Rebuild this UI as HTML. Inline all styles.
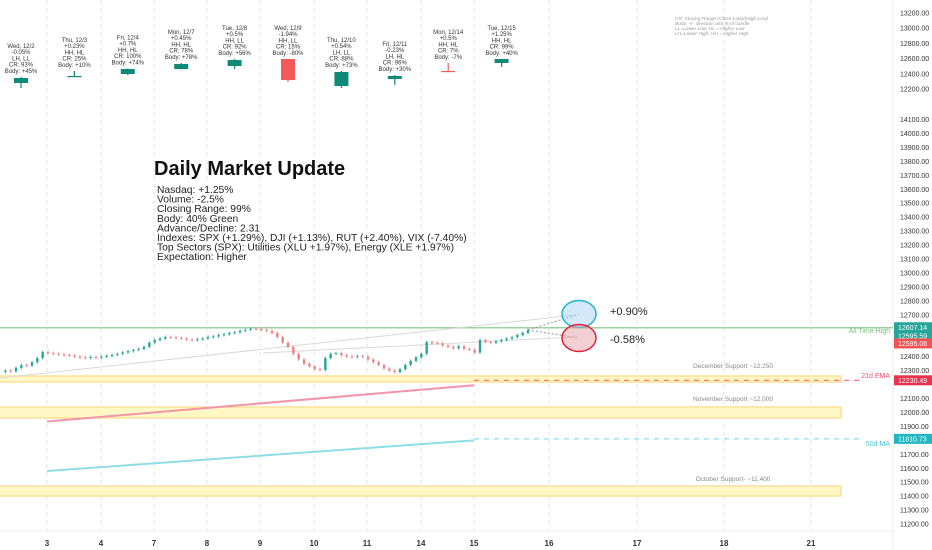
<!DOCTYPE html>
<html><head><meta charset="utf-8"><style>
html,body{margin:0;padding:0;background:#fff;}
svg{display:block;font-family:"Liberation Sans","DejaVu Sans",sans-serif;}
</style></head><body>
<svg id="c" width="932" height="550" viewBox="0 0 932 550"></svg>
<script>
// ---- data ----
const dayLabels = ["3","4","7","8","9","10","11","14","15","16","17","18","21"];
const dayX = [47,101,154,207,260,314,367,421,474,549,637,724,811];
const axisTicksMain = [14100,14000,13900,13800,13700,13600,13500,13400,13300,13200,13100,13000,12900,12800,12700,12400,12300,12100,12000,11900,11700,11600,11500,11400,11300,11200];
const axisTicksTop = [13200,13000,12800,12600,12400,12200];
const priceCloses = [12290,12300,12295,12320,12340,12335,12360,12390,12433,12425,
12420,12415,12412,12408,12400,12395,12390,12398,12392,12400,
12405,12412,12420,12430,12440,12448,12455,12470,12500,12519,
12530,12541,12538,12535,12530,12522,12518,12525,12530,12541,
12545,12555,12560,12570,12575,12585,12592,12600,12598,12591,
12585,12570,12540,12500,12470,12420,12380,12350,12330,12310,
12304,12390,12420,12426,12410,12400,12398,12405,12400,12380,
12360,12340,12315,12300,12290,12310,12340,12370,12395,12420,
12505,12500,12495,12480,12470,12460,12475,12455,12450,12430,
12519,12505,12500,12510,12520,12530,12540,12555,12570,12591];
const candleNames = ["Wed, 12/2","Thu, 12/3","Fri, 12/4","Mon, 12/7","Tue, 12/8","Wed, 12/9","Thu, 12/10","Fri, 12/11","Mon, 12/14","Tue, 12/15"];
const candleChg = ["-0.05%","+0.23%","+0.7%","+0.45%","+0.5%","-1.94%","+0.54%","-0.23%","+0.5%","+1.25%"];
const candleHL = ["LH, LL","HH, HL","HH, HL","HH, HL","HH, LL","HH, LL","LH, LL","LH, HL","HH, HL","HH, HL"];
const candleCR = ["93%","25%","100%","78%","92%","15%","88%","96%","7%","99%"];
const candleBody = ["+45%","+10%","+74%","+78%","+56%","-80%","+73%","+30%","-7%","+40%"];
const cOpen  = [12279,12365,12397,12463,12503,12595,12239,12332,12437,12542];
const cClose = [12345,12371,12463,12529,12582,12318,12424,12371,12430,12595];
const cHigh  = [12358,12437,12470,12542,12595,12595,12437,12384,12542,12595];
const cLow   = [12213,12358,12384,12457,12463,12292,12213,12253,12430,12490];
const emaEnds = [11935,12195];
const maEnds = [11580,11800];

const NS="http://www.w3.org/2000/svg";
const svg=document.getElementById('c');
function el(tag,attrs,parent){const e=document.createElementNS(NS,tag);for(const k in attrs)e.setAttribute(k,attrs[k]);(parent||svg).appendChild(e);return e;}
function txt(s,attrs,parent){const e=el('text',attrs,parent);e.textContent=s;return e;}
const yMain=v=>119.5+(14100-v)*0.1395;
const yTop=v=>13+(13200-v)*0.076;
const xIdx=i=>i*(528/(priceCloses.length-1));
const xCandle=i=>21+i*53.4;

// grid
dayX.forEach((x,i)=>{
  const g=el('line',{x1:x,y1:0,x2:x,y2:530,stroke:'#e3e3e3','stroke-dasharray':'4,4'});
  
  
  const t=txt(dayLabels[i],{x:x,y:546,'font-size':8,'font-weight':'bold',fill:'#333','text-anchor':'middle'});
  
  
});
el('line',{x1:0,y1:531,x2:893,y2:531,stroke:'#eee'});
el('line',{x1:893,y1:0,x2:893,y2:550,stroke:'#e8e8e8'});

// yellow support bands
[[376,382,'December Support ~12,250',368],[407,418,'November Support ~12,000',401],[486,496,'October Support- ~11,400',481]].forEach(b=>{
  const r=el('rect',{x:-2,y:b[0],width:843,height:b[1]-b[0],fill:'#fff8c4',stroke:'#fbe19a','stroke-width':1.5});
  
  
  const t=txt(b[2],{x:733,y:b[3],'font-size':6.5,fill:'#888','text-anchor':'middle'});
  
  
});

// ATH line
const ath=el('line',{x1:0,y1:yMain(12607.14),x2:893,y2:yMain(12607.14),stroke:'#9ed49c','stroke-width':1.5});


txt('All Time High',{x:890,y:333,'font-size':7,fill:'#7cbf7a','text-anchor':'end'});

// trend lines
el('line',{x1:0,y1:378,x2:575,y2:315,stroke:'#d8d8d8'});
el('line',{x1:263,y1:353,x2:575,y2:337,stroke:'#d8d8d8'});

// EMA / MA
const ema=el('line',{x1:47,y1:yMain(emaEnds[0]),x2:474,y2:yMain(emaEnds[1]),stroke:'#f095aa','stroke-width':2});


el('line',{x1:474,y1:yMain(12230.49),x2:860,y2:yMain(12230.49),stroke:'#f26b6b','stroke-width':1.2,'stroke-dasharray':'5,5'});
txt('21d EMA',{x:890,y:378,'font-size':7,fill:'#f0506a','text-anchor':'end'});
const ma=el('line',{x1:47,y1:yMain(maEnds[0]),x2:474,y2:yMain(maEnds[1]),stroke:'#8edde6','stroke-width':2});


el('line',{x1:474,y1:yMain(11810.73),x2:860,y2:yMain(11810.73),stroke:'#8edde6','stroke-width':1.2,'stroke-dasharray':'5,5'});
txt('50d MA',{x:890,y:446,'font-size':7,fill:'#4cc3d0','text-anchor':'end'});

// price bars
for(let i=1;i<priceCloses.length;i++){
  const o=priceCloses[i-1],c=priceCloses[i];
  const up=c>=o;const x=xIdx(i);
  const col=up?'#26a69a':'#ef8080';
  const y1=yMain(Math.max(o,c)),y2=yMain(Math.min(o,c));
  const w=el('line',{x1:x,y1:y1-1.5,x2:x,y2:y2+1.5,stroke:col,'stroke-width':0.8});
  
  
  const r=el('rect',{x:x-1.2,y:y1,width:2.4,height:Math.max(1,y2-y1),fill:col});
  
  
}
// projection arrows & circles
const lastX=xIdx(priceCloses.length-1),lastY=yMain(priceCloses[priceCloses.length-1]);
el('line',{x1:lastX,y1:lastY,x2:579,y2:314,stroke:'#999','stroke-dasharray':'2,2'});
el('line',{x1:lastX,y1:lastY,x2:579,y2:338,stroke:'#999','stroke-dasharray':'2,2'});
const bc=el('ellipse',{cx:579,cy:314,rx:17,ry:13.5,fill:'rgba(170,210,245,0.5)',stroke:'#22b5c9','stroke-width':1.5});


const rc=el('ellipse',{cx:579,cy:338,rx:17,ry:13.5,fill:'rgba(230,160,165,0.5)',stroke:'#e0213c','stroke-width':1.5});


txt('+0.90%',{x:610,y:315,'font-size':11,fill:'#222'});
txt('-0.58%',{x:610,y:343,'font-size':11,fill:'#222'});

// mini candles
for(let i=0;i<cOpen.length;i++){
  const x=xCandle(i),up=cClose[i]>=cOpen[i],col=up?'#0f8a78':'#f55a5a';
  const w=el('line',{x1:x,y1:yTop(cHigh[i]),x2:x,y2:yTop(cLow[i]),stroke:col,'stroke-width':1.2});
  
  
  const yt=yTop(Math.max(cOpen[i],cClose[i])),yb=yTop(Math.min(cOpen[i],cClose[i]));
  const r=el('rect',{x:x-7,y:yt,width:14,height:Math.max(1.2,yb-yt),fill:col});
  
  
  const lines=[candleNames[i],candleChg[i],candleHL[i],'CR: '+candleCR[i],'Body: '+candleBody[i]];
  const base=yTop(cHigh[i])-4-4*6.3;
  lines.forEach((s,j)=>{
    const t=txt(s,{x:x,y:base+j*6.3,'font-size':6,fill:'#333','text-anchor':'middle'});
    
    
  });
}
// legend note
['CR: Closing Range (Close-Low)/(High-Low)','Body: +/- direction and % of candle','LL=Lower Low, HL = Higher Low','LH=Lower High, HH = Higher High'].forEach((s,j)=>{
  txt(s,{x:675,y:20+j*5,'font-size':4.8,'font-style':'italic',fill:'#999'});
});

// axes
axisTicksTop.forEach(v=>{
  const t=txt(v.toFixed(2),{x:900,y:yTop(v)+2.5,'font-size':7,fill:'#333'});
  
  
});
axisTicksMain.forEach(v=>{
  const t=txt(v.toFixed(2),{x:900,y:yMain(v)+2.5,'font-size':7,fill:'#333'});
  
  
});
[[12607.14,'#26a69a',-0.5],[12595.59,'#26a69a',6.5],[12595.06,'#f05454',14],[12230.49,'#e8344e',0],[11810.73,'#22b5c2',0]].forEach(p=>{
  const y=yMain(p[0])+p[2];
  const r=el('rect',{x:894,y:y-5,width:38,height:10,fill:p[1]});
  
  
  txt(p[0].toFixed(2),{x:898,y:y+2.5,'font-size':7,fill:'#fff'});
});

// title block
const tt=txt('Daily Market Update',{x:154,y:175,'font-size':20,'font-weight':'bold',fill:'#111'});


['Nasdaq: +1.25%','Volume: -2.5%','Closing Range: 99%','Body: 40% Green','Advance/Decline: 2.31','Indexes: SPX (+1.29%), DJI (+1.13%), RUT (+2.40%), VIX (-7.40%)','Top Sectors (SPX): Utilities (XLU +1.97%), Energy (XLE +1.97%)','Expectation: Higher'].forEach((s,j)=>{
  const t=txt(s,{x:157,y:193+j*9.6,'font-size':10.3,fill:'#222'});
  
  
});
</script>
</body></html>
